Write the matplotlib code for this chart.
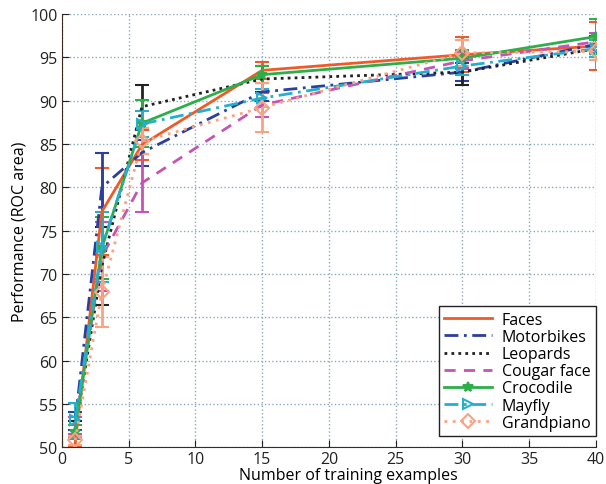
import numpy as np
import matplotlib.pyplot as plt

# number of training examples
n_train = [1, 3, 6, 15, 30, 40]

# ROC area per category
faces = [50.5, 77.2, 84.9, 93.5, 95.3, 96.3]
faces_err = [0.5, 5.0, 1.7, 1.0, 2.0, 2.8]
motorbikes = [53.0, 80.0, 84.0, 91.0, 93.3, 96.5]
motorbikes_err = [1.0, 4.0, 1.5, 1.0, 1.0, 1.0]
leopards = [52.0, 70.9, 89.3, 92.5, 93.3, 96.0]
leopards_err = [1.0, 4.5, 2.5, 1.5, 1.5, 1.3]
cougar = [52.5, 72.0, 80.5, 89.5, 94.6, 96.8]
cougar_err = [1.0, 4.0, 3.3, 1.4, 1.0, 1.0]
crocodile = [51.7, 73.0, 87.4, 93.0, 94.9, 97.4]
crocodile_err = [0.8, 3.6, 2.7, 1.0, 1.0, 2.0]
mayfly = [53.1, 73.1, 87.3, 90.3, 94.0, 96.0]
mayfly_err = [2.0, 4.0, 1.5, 1.0, 1.0, 1.0]
grandpiano = [50.8, 67.9, 85.3, 89.2, 95.5, 95.7]
grandpiano_err = [0.5, 4.0, 1.5, 2.8, 1.5, 1.0]

labels = ['Faces', 'Motorbikes', 'Leopards', 'Cougar face', 'Crocodile',
          'Mayfly', 'Grandpiano']
xtick_vals = [0, 5, 10, 15, 20, 25, 30, 35, 40]
ytick_vals = [50, 55, 60, 65, 70, 75, 80, 85, 90, 95, 100]

plt.rcParams['font.family'] = ['Open Sans', 'DejaVu Sans']

fig = plt.figure(figsize=(6.06, 4.85), dpi=100)
ax = fig.add_axes([0.102, 0.076, 0.8815, 0.893])

series = [
    (faces, faces_err, '#f05a28', '-', None, 'full'),
    (motorbikes, motorbikes_err, '#2a3f9e', (0, (5, 2, 1, 2)), None, 'full'),
    (leopards, leopards_err, '#222222', (0, (1, 1.5)), None, 'full'),
    (cougar, cougar_err, '#c455b5', (0, (4, 3)), None, 'full'),
    (crocodile, crocodile_err, '#2eae4a', '-', '*', 'full'),
    (mayfly, mayfly_err, '#22b0cc', (0, (5, 2, 1, 2)), '>', 'none'),
    (grandpiano, grandpiano_err, '#f8a484', (0, (1, 2)), 'D', 'none'),
]

for (vals, err, col, ls, mk, fill), lab in zip(series, labels):
    ax.errorbar(n_train, vals, yerr=err, color=col, ls=ls, lw=2,
                marker=mk, ms=7, fillstyle=fill, mew=1.5,
                elinewidth=2, capsize=5, capthick=2, label=lab)

ax.set_xlim(0, 40)
ax.set_ylim(50, 100)
ax.set_xticks(xtick_vals)
ax.set_yticks(ytick_vals)
ax.tick_params(direction='in', length=5, labelsize=11.5, colors='#222222', pad=3)
ax.grid(True, ls=':', color='#8aaabb', lw=1)
for s in ['top', 'right']:
    ax.spines[s].set_visible(False)
for s in ['left', 'bottom']:
    ax.spines[s].set_color('#3a2a20')

ax.set_xlabel('Number of training examples', fontsize=11.5)
ax.xaxis.set_label_coords(0.537, -0.045)
ax.set_ylabel('Performance (ROC area)', fontsize=11.5, labelpad=2)

handles, labs = ax.get_legend_handles_labels()
handles = [h[0] for h in handles]
leg = ax.legend(handles, labs, loc='lower right', fontsize=11.5,
                bbox_to_anchor=(0.997, 0.082), bbox_transform=fig.transFigure,
                fancybox=False, edgecolor='#222222', framealpha=1,
                handlelength=3.0, labelspacing=0.07, borderpad=0.35,
                handletextpad=0.6)
leg.get_frame().set_linewidth(1)

fig.savefig('out.png', dpi=100)
